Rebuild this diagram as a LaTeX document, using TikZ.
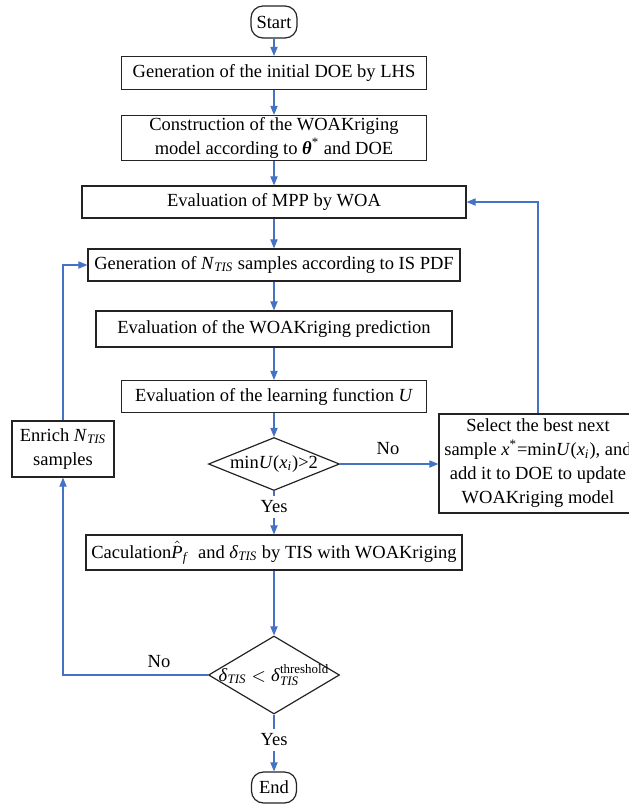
\documentclass[tikz,border=0pt]{standalone}
\usepackage{fontspec}
\usepackage{amsmath}
\setmainfont{Liberation Serif}
\usetikzlibrary{arrows.meta, calc, positioning, shapes.geometric}
\definecolor{flowblue}{RGB}{68,114,196}
\definecolor{boxgray}{RGB}{35,35,35}
\newcommand{\itx}[1]{\text{\textit{#1}}}

\begin{document}
\begin{tikzpicture}[x=0.5pt, y=-0.5pt,
    font=\fontsize{9.25}{12}\selectfont,
    procbox/.style={draw=boxgray, line width=0.6pt, rectangle, align=center, inner sep=1pt},
    termbox/.style={draw=boxgray, line width=0.6pt, rounded corners=6pt, inner sep=1pt},
    decbox/.style={draw=boxgray, line width=0.6pt, diamond, inner sep=0pt},
    lbl/.style={fill=white, inner sep=2pt},
    flow/.style={draw=flowblue, line width=0.55pt},
    flowarrow/.style={flow, -{Triangle[length=4.5pt, width=3.6pt]}}]
    \useasboundingbox (0,0) rectangle (628,804);

    % main column
    \node[termbox, minimum width=23pt, minimum height=16pt] (start) at (274,22) {Start};
    \node[procbox, minimum width=152.5pt, minimum height=16.5pt] (doe) at (274,73) {Generation of the initial DOE by LHS};
    \node[procbox, minimum width=152.5pt, minimum height=22.5pt] (build) at (274,138) {Construction of the WOAKriging\\model according to \textbf{\textit{θ}}\textsuperscript{*} and DOE};
    \node[procbox, minimum width=192pt, minimum height=16pt] (mpp) at (274,202) {Evaluation of MPP by WOA};
    \node[procbox, minimum width=186pt, minimum height=16pt] (gen) at (274,265) {Generation of $\itx{N}_{\itx{TIS}}$ samples according to IS PDF};
    \node[procbox, minimum width=178pt, minimum height=18pt] (pred) at (274,329) {Evaluation of the WOAKriging prediction};
    \node[procbox, minimum width=152.5pt, minimum height=16pt] (learn) at (274,396.5) {Evaluation of the learning function \textit{U}};
    \node[decbox, minimum width=65.5pt, minimum height=26.5pt] (conv) at (274,464) {};
    \node (convtxt) at (conv) {min\textit{U}($\itx{x}_{\itx{i}}$)>2};
    \node[lbl] (yesA) at (274,507) {Yes};
    \node[procbox, minimum width=188pt, minimum height=17.5pt] (calc) at (274,552.5) {Caculation$\hat{\itx{P}}_{\itx{f}}$\ \ and $\itx{δ}_{\itx{TIS}}$ by TIS with WOAKriging};
    \node[decbox, minimum width=65.5pt, minimum height=39pt] (check) at (274,675) {};
    \node (checktxt) at (check) {$\itx{δ}_{\itx{TIS}} < \itx{δ}^{\text{threshold}}_{\itx{TIS}}$};
    \node[lbl] (yesB) at (274,740) {Yes};
    \node[termbox, minimum width=22.5pt, minimum height=15.5pt] (finish) at (274,787.5) {End};

    % side boxes
    \node[procbox, minimum width=99pt, minimum height=49.5pt] (select) at (538,463.5) {Select the best next\\sample \textit{x}\textsuperscript{*}=min\textit{U}($\itx{x}_{\itx{i}}$), and\\add it to DOE to update\\WOAKriging model};
    \node[procbox, minimum width=51pt, minimum height=28pt] (enrich) at (63,449) {Enrich $\itx{N}_{\itx{TIS}}$\\samples};

    \node (noA) at (388,449) {No};
    \node (noB) at (159,662) {No};

    \draw[flowarrow] (start) -- (doe);
    \draw[flowarrow] (doe) -- (build);
    \draw[flowarrow] (build) -- (mpp);
    \draw[flowarrow] (mpp) -- (gen);
    \draw[flowarrow] (gen) -- (pred);
    \draw[flowarrow] (pred) -- (learn);
    \draw[flowarrow] (learn) -- (conv);
    \draw[flow] (conv) -- (yesA);
    \draw[flowarrow] (yesA) -- (calc);
    \draw[flowarrow] (calc) -- (check);
    \draw[flow] (check) -- (yesB);
    \draw[flowarrow] (yesB) -- (finish);

    % loops
    \draw[flowarrow] (conv.east) -- (conv.east -| select.west);
    \draw[flowarrow] (select.north) |- (mpp.east);
    \draw[flowarrow] (check.west) -| (enrich.south);
    \draw[flowarrow] (enrich.north) |- (gen.west);
\end{tikzpicture}
\end{document}
